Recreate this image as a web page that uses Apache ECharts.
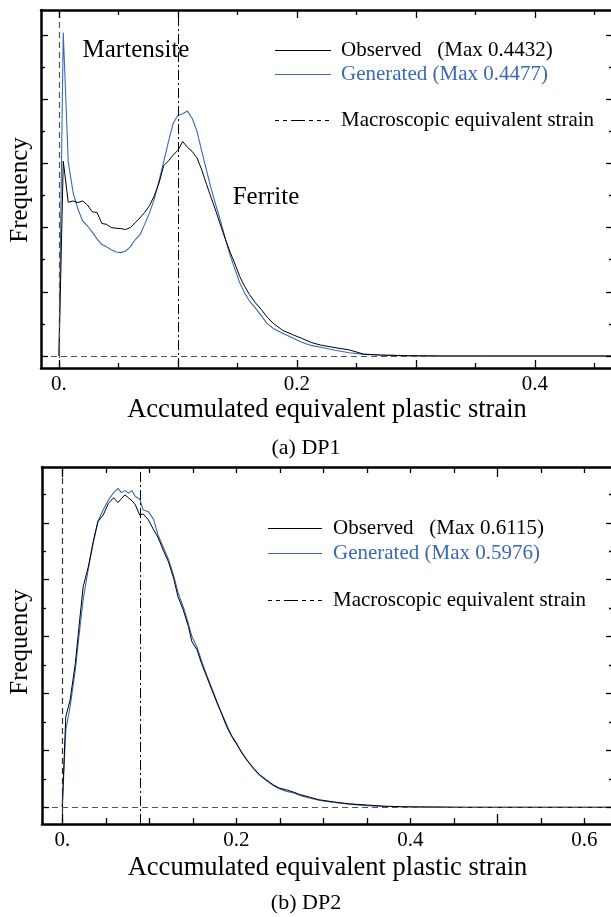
<!DOCTYPE html>
<html><head><meta charset="utf-8">
<script src="https://cdn.jsdelivr.net/npm/echarts@6/dist/echarts.min.js"></script>
<style>html,body{margin:0;padding:0;background:#fff}#c{width:611px;height:917px}</style>
</head><body><div id="c"></div>
<script>
// ---------- DATA ----------
// Panel (a) DP1
const strain1 = [0, 0.0036, 0.0078, 0.012, 0.016, 0.020, 0.024, 0.028, 0.032, 0.036, 0.040, 0.044, 0.048, 0.052, 0.056, 0.060, 0.064, 0.068, 0.072, 0.076, 0.080, 0.084, 0.088, 0.092, 0.096, 0.100, 0.104, 0.108, 0.112, 0.116, 0.120, 0.124, 0.128, 0.132, 0.136, 0.140, 0.144, 0.148, 0.152, 0.156, 0.160, 0.165, 0.170, 0.175, 0.180, 0.188, 0.196, 0.204, 0.212, 0.220, 0.232, 0.244, 0.256, 0.270, 0.290, 0.320, 0.360, 0.400, 0.465];
const observed1 = [0, 6.07, 4.79, 4.83, 4.78, 4.83, 4.70, 4.49, 4.47, 4.13, 4.10, 4.00, 3.98, 3.97, 3.94, 4.00, 4.15, 4.30, 4.47, 4.68, 4.98, 5.38, 5.93, 6.08, 6.26, 6.41, 6.68, 6.50, 6.37, 6.17, 5.80, 5.35, 4.92, 4.50, 4.05, 3.62, 3.22, 2.86, 2.47, 2.17, 1.92, 1.66, 1.45, 1.21, 1.02, 0.80, 0.67, 0.55, 0.42, 0.34, 0.26, 0.19, 0.06, 0.03, 0.01, 0, 0, 0, 0];
const generated1 = [0, 10.08, 6.05, 5.07, 4.57, 4.20, 4.05, 3.86, 3.65, 3.47, 3.40, 3.31, 3.24, 3.22, 3.27, 3.40, 3.62, 3.77, 4.10, 4.45, 4.88, 5.45, 6.05, 6.68, 7.25, 7.50, 7.55, 7.63, 7.40, 7.00, 6.38, 5.78, 5.20, 4.68, 4.18, 3.63, 3.12, 2.70, 2.27, 1.96, 1.72, 1.50, 1.26, 1.01, 0.86, 0.71, 0.57, 0.43, 0.33, 0.27, 0.18, 0.10, 0.05, 0.03, 0.01, 0, 0, 0, 0];
const macroStrain1 = 0.097;
const xLabels1 = [0, 0.2, 0.4];
const xMajor1 = [0, 0.1, 0.2, 0.3, 0.4];
const xMinor1 = [0.05, 0.15, 0.25, 0.35, 0.45];
const yMajor1 = [0, 2, 4, 6, 8, 10];
const yMinor1 = [1, 3, 5, 7, 9];
const legend1 = ['Observed   (Max 0.4432)', 'Generated (Max 0.4477)', 'Macroscopic equivalent strain'];
const caption1 = '(a) DP1';

// Panel (b) DP2
const strain2 = [0, 0.004, 0.009, 0.015, 0.020, 0.024, 0.030, 0.036, 0.041, 0.047, 0.053, 0.059, 0.064, 0.068, 0.072, 0.076, 0.080, 0.084, 0.089, 0.093, 0.099, 0.105, 0.110, 0.116, 0.122, 0.128, 0.133, 0.139, 0.145, 0.149, 0.155, 0.160, 0.166, 0.172, 0.178, 0.183, 0.189, 0.195, 0.201, 0.206, 0.212, 0.220, 0.227, 0.235, 0.243, 0.250, 0.258, 0.266, 0.273, 0.285, 0.296, 0.312, 0.330, 0.350, 0.370, 0.390, 0.420, 0.460, 0.520, 0.580, 0.633];
const observed2 = [0, 3.18, 3.77, 5.06, 6.58, 7.75, 8.46, 9.40, 10.04, 10.27, 10.68, 10.88, 10.71, 10.85, 10.98, 10.88, 10.78, 10.63, 10.27, 10.31, 10.10, 9.75, 9.49, 9.04, 8.63, 8.05, 7.40, 6.94, 6.35, 5.82, 5.53, 5.06, 4.59, 4.12, 3.66, 3.30, 2.83, 2.48, 2.19, 1.95, 1.66, 1.37, 1.14, 0.96, 0.78, 0.67, 0.61, 0.53, 0.45, 0.35, 0.26, 0.19, 0.12, 0.08, 0.04, 0.02, 0.01, 0, 0, 0, 0];
const generated2 = [0, 2.70, 3.54, 4.83, 6.23, 7.30, 8.40, 9.35, 10.05, 10.45, 10.80, 11.06, 11.21, 11.06, 11.13, 11.04, 11.13, 10.92, 10.83, 10.45, 10.39, 10.12, 9.57, 9.15, 8.72, 8.15, 7.55, 7.05, 6.45, 6.00, 5.62, 5.15, 4.65, 4.18, 3.70, 3.32, 2.90, 2.50, 2.22, 1.92, 1.68, 1.35, 1.12, 0.92, 0.76, 0.64, 0.56, 0.50, 0.42, 0.32, 0.24, 0.17, 0.11, 0.06, 0.03, 0.02, 0.01, 0, 0, 0, 0];
const macroStrain2 = 0.0885;
const xLabels2 = [0, 0.2, 0.4, 0.6];
const xMajor2 = [0, 0.5];
const xMinor2 = [0.05, 0.1, 0.15, 0.2, 0.25, 0.3, 0.35, 0.4, 0.45, 0.55, 0.6];
const yMajor2 = [0, 2, 4, 6, 8, 10];
const yMinor2 = [1, 3, 5, 7, 9, 11];
const legend2 = ['Observed   (Max 0.6115)', 'Generated (Max 0.5976)', 'Macroscopic equivalent strain'];
const caption2 = '(b) DP2';

const xTitle = 'Accumulated equivalent plastic strain';
const yTitle = 'Frequency';
const phaseLabels = ['Martensite', 'Ferrite'];

// ---------- STYLE ----------
const FONT = '"Liberation Serif", "Times New Roman", serif';
const BLUE = '#3b68b4';
const BLACK = '#000';

function axisSet(kind, grid, min, max, major, minor, labels, majLen, minLen, name, nameGap) {
  const isX = kind === 'x';
  const pos = isX ? ['bottom', 'top'] : ['left', 'right'];
  const base = { type: 'value', gridIndex: grid, min: min, max: max, splitLine: { show: false }, z: 5 };
  const out = [];
  [[pos[0], major, majLen, true], [pos[1], major, majLen, false], [pos[0], minor, minLen, false], [pos[1], minor, minLen, false]].forEach((d, i) => {
    const a = Object.assign({}, base, {
      position: d[0],
      axisLine: { show: i < 2, onZero: false, lineStyle: { color: BLACK, width: 2.5 } },
      axisTick: { show: true, inside: true, length: d[2], customValues: d[1], lineStyle: { color: BLACK, width: 1.3 } },
      axisLabel: { show: false }
    });
    if (d[3] && labels) {
      a.axisLabel = { show: true, customValues: labels, formatter: v => (v === 0 ? '0.' : v.toFixed(1)),
        color: BLACK, fontFamily: FONT, fontSize: 21, margin: 6 };
      a.name = name; a.nameLocation = 'middle'; a.nameGap = nameGap;
      a.nameTextStyle = { color: BLACK, fontFamily: FONT, fontSize: 26.5 };
    }
    out.push(a);
  });
  return out;
}

const xAxes = [].concat(
  axisSet('x', 0, -0.0151, 0.4656, xMajor1, xMinor1, xLabels1, 8, 5, xTitle, 29),
  axisSet('x', 1, -0.0233, 0.633, xMajor2, xMinor2, xLabels2, 10, 6, xTitle, 31)
);
const yAxes = [].concat(
  axisSet('y', 0, -0.374, 10.779, yMajor1, yMinor1, null, 7, 4),
  axisSet('y', 1, -0.587, 11.96, yMajor2, yMinor2, null, 7, 4)
);

function pairs(xs, ys) { return xs.map((x, i) => [x, ys[i]]); }

function refLines(macro, zeroColor) {
  return {
    silent: true, symbol: 'none', label: { show: false }, animation: false,
    data: [
      { xAxis: 0, lineStyle: { color: zeroColor, type: [6, 4], width: 1.2 } },
      { xAxis: macro, lineStyle: { color: BLACK, type: [10, 3, 2, 3], width: 1 } },
      { yAxis: 0, lineStyle: { color: '#555', type: [6, 4], width: 1.2 } }
    ]
  };
}

const series = [
  { type: 'line', name: 'obs1', xAxisIndex: 0, yAxisIndex: 0, data: pairs(strain1, observed1), showSymbol: false,
    lineStyle: { color: BLACK, width: 1 }, z: 3, markLine: refLines(macroStrain1, '#555') },
  { type: 'line', name: 'gen1', xAxisIndex: 0, yAxisIndex: 0, data: pairs(strain1, generated1), showSymbol: false,
    lineStyle: { color: BLUE, width: 1.1 }, z: 2 },
  { type: 'line', name: 'obs2', xAxisIndex: 4, yAxisIndex: 4, data: pairs(strain2, observed2), showSymbol: false,
    lineStyle: { color: BLACK, width: 1 }, z: 3, markLine: refLines(macroStrain2, '#333') },
  { type: 'line', name: 'gen2', xAxisIndex: 4, yAxisIndex: 4, data: pairs(strain2, generated2), showSymbol: false,
    lineStyle: { color: BLUE, width: 1.1 }, z: 2 }
];

function txt(s, x, y, size, color, align, rot) {
  return { type: 'text', x: x, y: y, rotation: rot || 0, z: 10,
    style: { text: s, fontFamily: FONT, fontSize: size, fill: color || BLACK, align: align || 'left', verticalAlign: 'middle' } };
}
function ln(x1, y1, x2, y2, color, dash) {
  return { type: 'line', z: 10, shape: { x1: x1, y1: y1, x2: x2, y2: y2 },
    style: { stroke: color, lineWidth: 1, lineDash: dash || null } };
}
function legendBlock(items, lx1, lx2, tx, y0, y1, y2) {
  return [
    ln(lx1, y0, lx2, y0, BLACK), txt(items[0], tx, y0, 21, BLACK),
    ln(lx1, y1, lx2, y1, BLUE), txt(items[1], tx, y1, 21, BLUE),
    ln(lx1, y2, lx2, y2, BLACK, [4, 4, 4, 4, 14, 4, 4, 4, 4, 4]), txt(items[2], tx, y2, 21, BLACK)
  ];
}

const graphic = [].concat(
  [txt(yTitle, 20, 190, 25, BLACK, 'center', Math.PI / 2),
   txt(yTitle, 20, 642, 25, BLACK, 'center', Math.PI / 2),
   txt(phaseLabels[0], 136, 50, 25, BLACK, 'center'),
   txt(phaseLabels[1], 266, 197, 25, BLACK, 'center'),
   txt(caption1, 306, 448, 22, BLACK, 'center'),
   txt(caption2, 306, 903, 22, BLACK, 'center')],
  legendBlock(legend1, 275, 331, 341, 50.5, 74.5, 120.5),
  legendBlock(legend2, 268, 322, 333, 528.5, 553.5, 600.5)
);

const chart = echarts.init(document.getElementById('c'), null, { renderer: 'canvas' });
chart.setOption({
  animation: false,
  backgroundColor: '#fff',
  grid: [
    { left: 41, top: 10, right: -2, height: 358, containLabel: false, outerBoundsMode: 'none' },
    { left: 42, top: 467, right: -2, height: 357, containLabel: false, outerBoundsMode: 'none' }
  ],
  xAxis: xAxes,
  yAxis: yAxes,
  series: series,
  graphic: graphic
});
</script>
</body></html>
